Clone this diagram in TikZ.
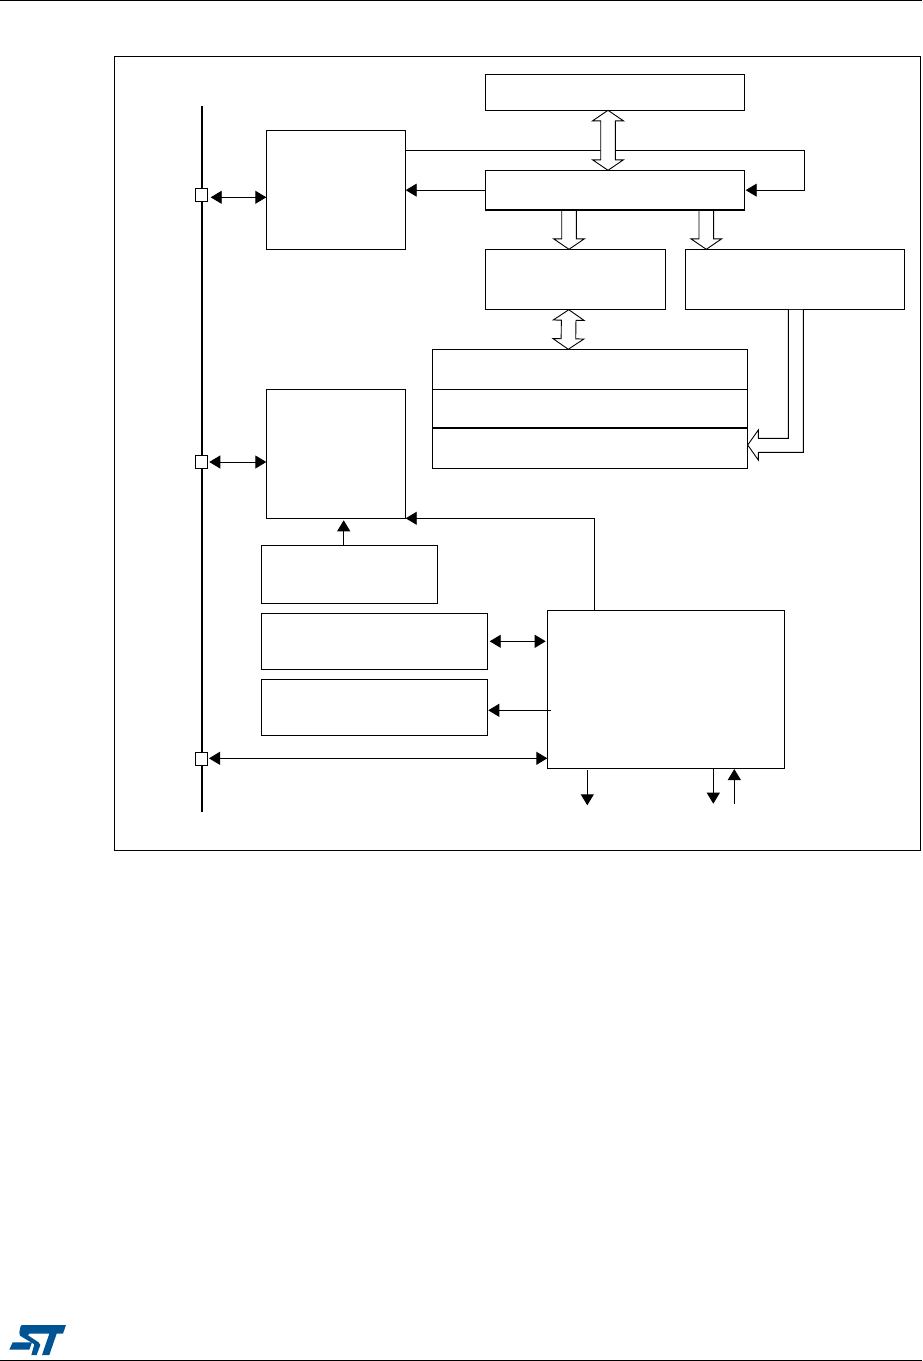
\documentclass[tikz,border=0pt]{standalone}
\usepackage{xcolor}
\usetikzlibrary{arrows.meta,calc}
\definecolor{stblue}{RGB}{0,84,148}
\tikzset{
  blockbox/.style={draw,line width=.9pt,inner sep=0pt,outer sep=0pt,anchor=north west},
  portbox/.style={draw,fill=white,line width=.9pt,inner sep=0pt,outer sep=0pt,minimum size=12.4pt},
  onearrow/.style={line width=.9pt,-{Triangle[length=11pt,width=13pt]}},
  biarrow/.style={line width=.9pt,{Triangle[length=11pt,width=13pt]}-{Triangle[length=11pt,width=13pt]}},
  thickrule/.style={line width=1.6pt},
  % wide outlined arrows between two nodes
  hollowone/.style={line width=.9pt,fill=white,to path={
    ($(\tikztostart)!7.3pt!90:(\tikztotarget)$)
    -- ($($(\tikztotarget)!10.5pt!(\tikztostart)$)!7.3pt!90:(\tikztotarget)$)
    -- ($($(\tikztotarget)!10.5pt!(\tikztostart)$)!15.4pt!90:(\tikztotarget)$)
    -- (\tikztotarget)
    -- ($($(\tikztotarget)!10.5pt!(\tikztostart)$)!15.4pt!-90:(\tikztotarget)$)
    -- ($($(\tikztotarget)!10.5pt!(\tikztostart)$)!7.3pt!-90:(\tikztotarget)$)
    -- ($(\tikztostart)!7.3pt!-90:(\tikztotarget)$)}},
  hollowtwo/.style={line width=.9pt,fill=white,to path={
    ($($(\tikztostart)!10.5pt!(\tikztotarget)$)!7.3pt!90:(\tikztotarget)$)
    -- ($($(\tikztotarget)!10.5pt!(\tikztostart)$)!7.3pt!90:(\tikztotarget)$)
    -- ($($(\tikztotarget)!10.5pt!(\tikztostart)$)!15.4pt!90:(\tikztotarget)$)
    -- (\tikztotarget)
    -- ($($(\tikztotarget)!10.5pt!(\tikztostart)$)!15.4pt!-90:(\tikztotarget)$)
    -- ($($(\tikztotarget)!10.5pt!(\tikztostart)$)!7.3pt!-90:(\tikztotarget)$)
    -- ($($(\tikztostart)!10.5pt!(\tikztotarget)$)!7.3pt!-90:(\tikztotarget)$)
    -- ($($(\tikztostart)!10.5pt!(\tikztotarget)$)!15.4pt!-90:(\tikztotarget)$)
    -- (\tikztostart)
    -- ($($(\tikztostart)!10.5pt!(\tikztotarget)$)!15.4pt!90:(\tikztotarget)$)
    -- cycle}}
}
\begin{document}
\begin{tikzpicture}[x=1pt,y=-1pt]
  \useasboundingbox (0,0) rectangle (922,1361);
  % page rules
  \coordinate (ruleTL) at (0,.6);
  \coordinate (ruleTR) at (922,.6);
  \coordinate (ruleBL) at (0,1360.2);
  \coordinate (ruleBR) at (922,1360.2);
  \draw[line width=1pt] (ruleTL)--(ruleTR);
  \draw[line width=1pt] (ruleBL)--(ruleBR);
  % frame
  \node[blockbox,minimum width=806.2pt,minimum height=793.8pt] (frame) at (114.5,56.5) {};
  % blocks
  \node[blockbox,minimum width=139.4pt,minimum height=119pt] (ctrlA) at (266.3,130.3) {};
  \node[blockbox,minimum width=139.4pt,minimum height=129pt] (ctrlB) at (266.3,389.3) {};
  \node[blockbox,minimum width=259pt,minimum height=36pt] (memtop) at (485.3,74.3) {};
  \node[blockbox,minimum width=259pt,minimum height=39.7pt] (bus) at (485.3,170.3) {};
  \node[blockbox,minimum width=180.4pt,minimum height=60pt] (bufleft) at (485.3,249.3) {};
  \node[blockbox,minimum width=219.4pt,minimum height=60pt] (bufright) at (685.3,249.3) {};
  \node[blockbox,minimum width=315.4pt,minimum height=40pt] (stacka) at (432.3,349.3) {};
  \node[blockbox,minimum width=315.4pt,minimum height=38.7pt] (stackb) at (432.3,389.3) {};
  \node[blockbox,minimum width=315.4pt,minimum height=40.3pt] (stackc) at (432.3,428) {};
  \node[blockbox,minimum width=176.4pt,minimum height=58pt] (small) at (261.3,545.3) {};
  \node[blockbox,minimum width=226.4pt,minimum height=56pt] (boxc) at (261.3,613.3) {};
  \node[blockbox,minimum width=226.4pt,minimum height=56pt] (boxd) at (261.3,679.3) {};
  \node[blockbox,minimum width=237.4pt,minimum height=158pt] (big) at (547.3,610.3) {};
  % vertical line and its pads
  \coordinate (lineTop) at (202,106);
  \coordinate (lineBot) at (202,811.7);
  \draw[line width=2pt] (lineTop)--(lineBot);
  \node[portbox] (portA) at (201.5,195) {};
  \node[portbox] (portB) at (201.5,462) {};
  \node[portbox] (portC) at (201.5,759) {};
  % thin connectors
  \draw[biarrow] ([shift={(3pt,-2.3pt)}]portA.east)--([yshift=-7.5pt]ctrlA.west);
  \draw[biarrow] ([xshift=1.6pt]portB.east)--(portB.east -| ctrlB.west);
  \draw[biarrow] ([shift={(1.3pt,.7pt)}]portC.east)--([yshift=.7pt]portC.east -| big.west);
  \draw[onearrow] (bus.west)--(bus.west -| ctrlA.east);
  \draw[onearrow,shorten >=1.4pt] ([yshift=39.5pt]ctrlA.east) -| ($(bus.east)+(59.9,0)$)--(bus.east);
  \draw[onearrow,shorten >=2pt] ([xshift=-5.8pt]small.north)--([xshift=-5.8pt]small.north |- ctrlB.south);
  \draw[onearrow] ([xshift=-71.7pt]big.north) |- (ctrlB.south east);
  \draw[biarrow,shorten <=2pt,shorten >=1.6pt] (boxc.east)--(boxc.east -| big.west);
  \draw[onearrow] ($(boxd.east -| big.west)+(3.4,3)$)--($(boxd.east)+(.6,3)$);
  \coordinate (outA) at (587.3,805.3);
  \coordinate (outB) at (713.3,803.7);
  \coordinate (inA) at (734.3,803.7);
  \draw[onearrow,shorten <=2pt] (big.south -| outA)--(outA);
  \draw[onearrow] (big.south -| outB)--(outB);
  \draw[onearrow,shorten >=.7pt] (inA)--(inA |- big.south);
  % wide outlined arrows
  \draw[hollowtwo] ([xshift=-6.8pt]memtop.south) to ([xshift=-6.8pt]bus.north);
  \draw[hollowone] ([xshift=-45.8pt]bus.south) to (bufleft.north -| 569,0);
  \draw[hollowone] ([xshift=91.5pt]bus.south) to (bufright.north -| 706.3,0);
  \draw[hollowtwo] ([xshift=-6.7pt,yshift=-.4pt]bufleft.south) to (stacka.north -| 568.3,0);
  \coordinate (stackin) at ([yshift=3.15pt]stackc.east);
  \draw[line width=.9pt,fill=white] ([shift={(-6.7pt,-.5pt)}]bufright.south) |- ($(stackin)+(10.6,-6.7)$)
    --($(stackin)+(10.6,-15)$)--(stackin)--($(stackin)+(10.6,15)$)--($(stackin)+(10.6,7.3)$)
    -| ([shift={(8.3pt,-.5pt)}]bufright.south);
  \draw[thickrule] (bus.south west)--(bus.south east);
  \draw[thickrule] (stackb.south west)--(stackb.south east);
  % logo
  \begin{scope}[x=.3333pt,y=-.3333pt,yshift=-1300pt]
    \fill[stblue] (62,78)--(66,75)--(198,75)--(189,101)--(170,101)--(148,165)--(126,165)--(148,101)--(88,101)--(84,106)--(116,127)--(121,135)--(110,165)--(94,165)--(103,133)--(60,107)--(58,97)--cycle;
    \fill[stblue] (28,149)--(38,127)--(96,127)--(88,149)--cycle;
  \end{scope}
\end{tikzpicture}
\end{document}
